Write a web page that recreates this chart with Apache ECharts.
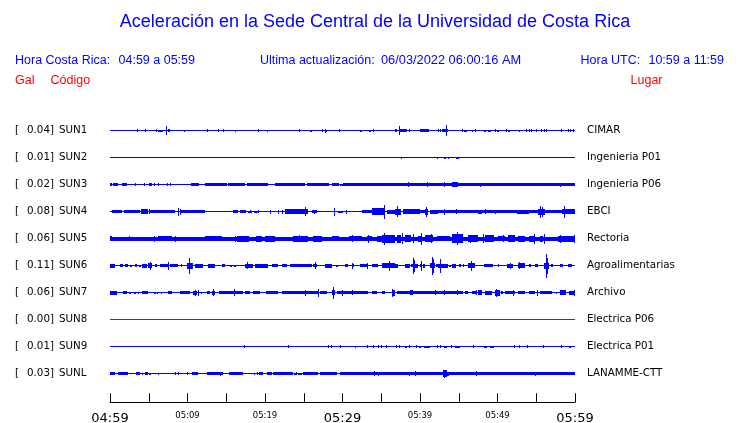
<!DOCTYPE html>
<html><head><meta charset="utf-8">
<script src="https://cdn.jsdelivr.net/npm/echarts@6/dist/echarts.min.js"></script>
<style>html,body{margin:0;padding:0;background:#fff}#c{width:740px;height:423px}</style>
</head><body><div id="c"></div><script>
// ---- data ----
const codes  = ['SUN1','SUN2','SUN3','SUN4','SUN5','SUN6','SUN7','SUN8','SUN9','SUNL'];
const peaks  = ['0.04','0.01','0.02','0.08','0.06','0.11','0.06','0.00','0.01','0.03'];
const places = ['CIMAR','Ingenieria P01','Ingenieria P06','EBCI','Rectoria','Agroalimentarias','Archivo','Electrica P06','Electrica P01','LANAMME-CTT'];
const tickLabels = ['04:59','','05:09','','05:19','','05:29','','05:39','','05:49','','05:59'];
const majorLabels = ['04:59','05:29','05:59'];
const windowMinutes = 60;

// envelope segments: [startMinute, endMinute, halfAmplitude]
const segSUN1 = [[6.24,6.9,1],[7.45,7.75,1.3],[25.75,26.0,1],[27.75,28.05,1],[32.25,32.5,1],[33.4,33.7,1],[37.45,38.3,1.3],[39.35,39.5,0.8],[40.05,41.1,1.3],[42.9,43.65,1.2],[44.35,44.85,0.8],[45.7,46,1],[48.25,48.5,1],[48.8,49.1,1],[49.9,50.15,1],[51.3,51.6,1],[58.2,58.45,0.8]];
const segSUN2 = [[43.1,43.4,1],[43.9,44.1,0.8],[44.65,45.0,1]];
const segSUN3 = [[0,0.22,1.7],[0.43,1.08,1.7],[1.6,2.15,1.7],[5.08,5.38,1.2],[7.3,7.5,1.5],[10.5,11.5,1.7],[12.26,15.05,1.7],[15.27,17.4,1.7],[17.7,20.4,1.7],[21.3,25.2,1.7],[25.4,28.2,1.7],[28.6,29.5,1.7],[29.7,30,1],[30.1,60,1.7],[44.1,44.95,2.3]];
const segSUN4 = [[0.22,1.5,1.7],[1.8,3.87,1.7],[4.0,4.95,2.3],[5.16,8.4,1.7],[9.03,12.26,1.7],[15.83,16.56,1.5],[16.77,17.42,1.2],[17.85,18.3,1],[18.6,19.2,1],[22.58,25.6,2.3],[23.65,24.7,2.7],[26.0,26.66,1.2],[29.45,30.1,1],[32.47,33.76,1.7],[33.76,35.5,3.3],[35.7,36.77,2],[36.77,37.6,3],[37.85,38.9,2.7],[38.9,40,2.5],[40,40.6,1.7],[40.6,41.07,3],[41.3,42.36,2],[42.36,47.5,1.7],[47.5,47.95,2],[47.95,52.47,1.7],[52.47,54,2],[54,55.27,1.7],[55.27,56.13,3],[56.13,58.27,1.7],[58.27,60,2.5]];
const segSUN5 = [[0,60,2],[0,0.3,2.8],[6.24,8,2.5],[12.3,14.4,2.3],[16.4,17.9,3],[18.9,19.6,3],[20,21.3,3],[23.65,25.6,3],[26.2,27.3,3],[28.6,29.5,2.5],[30.8,32.5,2.5],[33.1,33.8,2.5],[34.4,35.05,3],[35.05,36.77,4],[37,37.6,4],[38.05,38.9,3.5],[39.8,40.3,3],[40.6,41.7,3.5],[42.15,43.9,2.3],[44.1,45.6,4.5],[46.25,47.5,3.5],[48.4,49.5,3.5],[50.1,51,2.5],[51.4,52.3,3.5],[52.7,53.6,3],[54.1,54.9,3],[55.5,55.9,3],[57.8,60,3]];
const segSUN6 = [[0,0.65,2],[1.3,1.72,1.7],[1.94,2.37,1.7],[2.62,2.8,1],[3.23,3.44,1.5],[3.8,3.95,1],[4.17,4.73,2],[4.95,5.38,2.7],[5.8,6.0,1.5],[6.45,7.5,1.7],[7.74,8.8,1.7],[9.15,9.33,1.2],[9.9,10.75,3],[10.97,12.04,2],[12.7,13.55,2],[14.4,14.84,1.2],[15.5,15.7,1],[16,16.2,1],[17.4,18.5,2],[18.7,20.4,2],[20.85,21.7,1.2],[22.15,22.8,1.2],[23.2,26,1.7],[26.2,26.66,1.5],[27.7,28.6,2],[29.15,29.4,1],[30.3,30.75,1.2],[31.27,31.5,1.2],[32.25,33.33,1.7],[33.76,34.6,1.7],[35.05,36.77,2.5],[36.77,37.2,2],[38.06,38.7,2],[38.85,39.14,1.5],[39.35,39.8,2],[40,40.2,1.5],[40.35,40.6,2],[41.3,41.93,2.7],[42.0,42.3,1.5],[42.36,43.65,2],[43.8,43.95,1],[44.1,44.7,2],[45.05,45.25,1.2],[45.5,45.7,1.2],[46.23,47.1,2.5],[48.2,49.46,1.7],[50.0,50.2,1.5],[51.2,52.05,2],[52.7,53.55,2.7],[54.1,54.3,1.2],[54.8,55.27,1.5],[56.05,56.65,3],[56.9,57.1,1.5],[58.06,58.5,1.2],[59.14,59.57,1.2]];
const segSUN7 = [[0,0.86,2],[1.72,2.15,1.5],[2.5,2.7,1],[3.14,3.3,1],[3.57,3.8,1],[4.17,4.95,1.7],[5.72,5.9,1],[6.06,6.24,1],[6.58,6.75,1],[7.53,7.96,1.5],[9.03,10.32,1.7],[10.75,11.18,2],[11.74,11.9,1],[12.47,12.9,1.2],[13.1,13.55,2],[14,17.2,1.7],[17.4,18.06,1.2],[18.5,19.35,1.7],[20.1,21.7,1.7],[22.15,22.58,1.2],[22.58,26.9,1.7],[27.1,27.95,1.7],[28.6,29.03,2.7],[29.25,29.9,1.2],[30.1,33.33,1.7],[33.76,34.4,1.5],[35.05,35.5,1.2],[36.34,36.77,3],[37,38.7,1.7],[38.7,39.14,2.5],[39.14,45.6,1.7],[45.8,46.23,1.2],[46.67,47.3,1.5],[47.5,47.95,2.5],[48.4,49.25,2],[49.7,50.3,3],[50.45,50.75,1.2],[51,52.25,1.7],[52.7,53.55,1.7],[54,54.84,1.7],[55.5,57,1.7],[57.55,57.7,1],[58.06,58.9,2.3],[59.2,60,2]];
const segSUN8 = [];
const segSUN9 = [[31.57,31.8,1],[38.06,38.3,1],[39.87,40.1,1],[40.56,41.25,1],[43.1,43.5,1],[44.5,45.2,1],[48.3,48.65,1],[49,49.6,1],[59.2,59.5,1]];
const segSUNL = [[0,0.65,1.5],[1.08,2.37,1.5],[3.3,3.87,1.5],[4.08,4.3,1],[4.5,4.95,1.2],[5.08,5.25,1],[6.15,6.32,1],[10.54,11.4,1.5],[12.47,14.62,1.5],[15.35,17.2,1.5],[17.68,17.85,0.8],[18.53,18.7,1],[19.22,19.78,1.5],[20.2,20.86,1.5],[21.07,23.65,1.5],[23.8,23.95,1],[24.3,24.73,1],[24.95,26.9,1.5],[27.1,29.25,1.5],[29.7,60,1.5],[43,43.45,3.5],[43.45,43.75,2]];

// isolated peaks: [minute, halfAmplitude]
const spkSUN1 = [[3.53,1.5],[4.56,1.5],[6.02,1.5],[7.27,4.7],[9.59,1],[12.56,1.5],[14.02,1.5],[14.62,1.5],[16.17,1],[19.14,1.5],[20.3,1],[24.43,1.5],[27.4,1.5],[27.87,2],[29.59,1.5],[33.98,1.5],[36.8,1.5],[37.03,1.5],[37.33,4.3],[38.6,1.5],[42.37,1.5],[42.6,1.5],[43.4,5.5],[45.5,1.5],[46.75,1],[47.1,1.5],[49.8,1.5],[51.2,1.5],[52.8,1],[53.8,1.5],[54.1,1.5],[54.4,1.5],[55.05,1.5],[55.7,1.5],[56.05,1.5],[56.35,1.5],[58.3,1.5],[59.2,1.5],[59.45,1.5],[59.8,1.5]];
const spkSUN2 = [[37.6,1],[42.2,1],[43.65,1]];
const spkSUN3 = [[3.23,1.7],[4.43,1.7],[5.8,1.5],[6.24,1.5],[7.87,1.7],[38.5,2.2],[40.95,2.8],[43.2,2.2],[44.45,2.5],[47.75,2],[58.1,2]];
const spkSUN4 = [[4.6,2.5],[5.05,2.5],[8.8,4],[9.1,3],[17.5,1.7],[18.1,1.7],[19.1,1.7],[20.75,2],[21.8,2],[22.2,2],[25.2,4.5],[26.4,2],[28.95,4],[30.5,2],[35.4,7],[37.1,5.5],[40.9,5],[43.1,3],[44.75,2.5],[48.4,2.5],[49.7,2],[55.6,6],[55.85,5],[58.7,6]];
const spkSUN5 = [[2.5,2.8],[5.8,3],[8.5,3],[16.2,3],[20.0,2.8],[23.8,3],[24.4,3.5],[25.2,3],[31.3,3.5],[33.4,4],[35.4,6],[37.7,5.5],[39.1,4.5],[40.2,6],[41.5,4.5],[44.9,6.5],[46.5,4],[48.2,4.5],[50.8,3.5],[54.8,5],[56.1,5],[58.1,4],[59.9,4]];
const spkSUN6 = [[5.25,4],[7.5,4],[10.3,8],[17.75,3.3],[26.5,3.5],[31.3,3],[33.2,3],[36.1,5],[39.1,8],[39.3,6],[40.2,5],[41.6,9],[41.8,7],[42.6,7],[46.7,5],[51.7,3],[52.9,3.5],[56.35,12],[56.5,8]];
const spkSUN7 = [[11.0,3],[11.4,3],[13.3,3.5],[16.0,3.5],[25.2,3],[26.9,4],[28.8,6],[30.0,3],[31.3,2.5],[36.5,4],[42.0,2.5],[43.2,2.5],[44.9,2.5],[47.3,2.5],[49.9,4],[50.3,3],[52.1,3],[55.2,3],[59.9,3]];
const spkSUN8 = [];
const spkSUN9 = [[17.4,1.3],[23.05,1.5],[28.2,1.3],[28.6,1.3],[29.8,1.3],[33.2,1.3],[34.0,1.3],[34.6,1.3],[35.05,1.3],[35.7,1.3],[36.95,1.3],[37.3,1.3],[38.7,1.3],[39.6,1.3],[42.2,1.3],[42.6,1.3],[44.1,1.3],[46.9,1.3],[52.2,1.3],[52.8,1.3],[53.9,1.3],[55.9,1.3],[58.2,1.3]];
const spkSUNL = [[8.4,1.5],[8.9,1.5],[10.0,1.5],[14.2,2],[19.0,1.5],[24.0,1.5],[34.1,2.5],[34.6,2],[38.6,2],[39.4,2.5],[43.2,4],[47.3,2.5],[54.9,2]];

const segs = [segSUN1,segSUN2,segSUN3,segSUN4,segSUN5,segSUN6,segSUN7,segSUN8,segSUN9,segSUNL];
const spks = [spkSUN1,spkSUN2,spkSUN3,spkSUN4,spkSUN5,spkSUN6,spkSUN7,spkSUN8,spkSUN9,spkSUNL];

// ---- layout / style ----
const SLOT = 27;
const N = codes.length;
const BLUE = '#0000ff', DEAD = '#dd0000';
const colorOf = t => (peaks[t] === '0.00' ? DEAD : BLUE);
const centerOf = t => SLOT * (t + 0.5);

const segData = [], spkData = [], baseData = [];
segs.forEach((arr, t) => arr.forEach(s => segData.push([t, s[0], s[1], s[2]])));
spks.forEach((arr, t) => arr.forEach(s => spkData.push([t, s[0], s[1]])));
for (let t = 0; t < N; t++) baseData.push([t]);

const chart = echarts.init(document.getElementById('c'), null, {renderer: 'canvas'});
const hdr = '"Liberation Sans", Arial, sans-serif';
const lbl = '"DejaVu Sans", sans-serif';

function txt(text, x, y, size, fill, align) {
  return {type: 'text', x: x, y: y, silent: true,
    style: {text: text, font: size + 'px ' + hdr, fill: fill, align: align || 'left', verticalAlign: 'middle'}};
}

chart.setOption({
  animation: false,
  backgroundColor: '#fff',
  graphic: [
    txt('Aceleración en la Sede Central de la Universidad de Costa Rica', 375, 22.5, 18, BLUE, 'center'),
    txt('Hora Costa Rica:', 15, 60.5, 12.5, BLUE),
    txt('04:59 a 05:59', 118.5, 60.5, 12.5, BLUE),
    txt('Ultima actualización:', 260, 60.5, 12.5, BLUE),
    txt('06/03/2022 06:00:16 AM', 381, 60.5, 12.8, BLUE),
    txt('Hora UTC:', 580.5, 60.5, 12.5, BLUE),
    txt('10:59 a 11:59', 724, 60.5, 12.5, BLUE, 'right'),
    txt('Gal', 15, 80.5, 12.5, '#ff0000'),
    txt('Código', 50.5, 80.5, 12.5, '#ff0000'),
    txt('Lugar', 662.5, 80.5, 12.5, '#ff0000', 'right')
  ],
  grid: [
    {left: 110, width: 465, top: 117, height: SLOT * N},
    {left: 110, width: 465, top: 400, height: 9}
  ],
  xAxis: [
    {gridIndex: 0, type: 'value', min: 0, max: windowMinutes, show: false},
    {gridIndex: 1, type: 'value', min: 0, max: windowMinutes, interval: 5,
      axisLine: {show: true, lineStyle: {color: '#000', width: 1}},
      axisTick: {show: true, inside: true, length: 9, lineStyle: {color: '#000', width: 1}},
      splitLine: {show: false},
      axisLabel: {show: true, margin: 7, showMinLabel: true, showMaxLabel: true,
        formatter: v => {
          const s = tickLabels[Math.round(v / 5)];
          if (!s) return '';
          return (majorLabels.indexOf(s) >= 0 ? '{big|' : '{small|') + s + '}';
        },
        rich: {
          big: {fontFamily: lbl, fontSize: 13, color: '#000', lineHeight: 17, padding: [1, 0, 0, 0]},
          small: {fontFamily: lbl, fontSize: 8.5, color: '#000', lineHeight: 13}
        }
      }
    }
  ],
  yAxis: [
    {gridIndex: 0, type: 'value', min: 0, max: SLOT * N, inverse: true, show: false},
    {gridIndex: 0, type: 'category', data: codes, inverse: true, position: 'left',
      axisLine: {show: false}, axisTick: {show: false}, splitLine: {show: false},
      axisLabel: {align: 'left', margin: 95, color: '#000',
        formatter: (v, i) => '{b|[}{v|' + peaks[i] + ']}{n|' + v + '}',
        rich: {
          b: {fontFamily: lbl, fontSize: 10.3, color: '#000', width: 12, lineHeight: 15},
          v: {fontFamily: lbl, fontSize: 10.3, color: '#000', width: 32, lineHeight: 15},
          n: {fontFamily: lbl, fontSize: 10.3, color: '#000', lineHeight: 15}
        }
      }
    },
    {gridIndex: 0, type: 'category', data: places, inverse: true, position: 'right',
      axisLine: {show: false}, axisTick: {show: false}, splitLine: {show: false},
      axisLabel: {align: 'left', margin: 12, color: '#000', fontFamily: lbl, fontSize: 10.3, lineHeight: 15}
    },
    {gridIndex: 1, type: 'value', show: false, min: 0, max: 1}
  ],
  series: [
    {type: 'custom', xAxisIndex: 0, yAxisIndex: 0, data: baseData, silent: true, clip: false,
      renderItem: (p, api) => {
        const t = api.value(0), c = centerOf(t);
        const a = api.coord([0, c]), b = api.coord([windowMinutes, c]);
        const y = Math.floor(a[1]) + 0.5;
        return {type: 'line', shape: {x1: Math.round(a[0]), y1: y, x2: Math.round(b[0]), y2: y},
          style: {stroke: colorOf(t), lineWidth: 1}};
      }},
    {type: 'custom', xAxisIndex: 0, yAxisIndex: 0, data: segData, silent: true, clip: false,
      renderItem: (p, api) => {
        const t = api.value(0), c = centerOf(t), a = api.value(3);
        const p0 = api.coord([api.value(1), c - a]);
        const p1 = api.coord([api.value(2), c + a]);
        const x0 = Math.round(p0[0]), x1 = Math.max(x0 + 1, Math.round(p1[0]));
        const y0 = Math.round(p0[1]), y1 = Math.max(y0 + 1, Math.round(p1[1]));
        return {type: 'rect', shape: {x: x0, y: y0, width: x1 - x0, height: y1 - y0},
          style: {fill: colorOf(t)}};
      }},
    {type: 'custom', xAxisIndex: 0, yAxisIndex: 0, data: spkData, silent: true, clip: false,
      renderItem: (p, api) => {
        const t = api.value(0), c = centerOf(t), a = api.value(2);
        const p0 = api.coord([api.value(1), c - a]);
        const p1 = api.coord([api.value(1), c + a]);
        const x = Math.floor(p0[0]);
        const y0 = Math.round(p0[1]), y1 = Math.round(p1[1]);
        return {type: 'rect', shape: {x: x, y: y0, width: 1, height: Math.max(1, y1 - y0)},
          style: {fill: colorOf(t)}};
      }}
  ]
});
</script></body></html>
